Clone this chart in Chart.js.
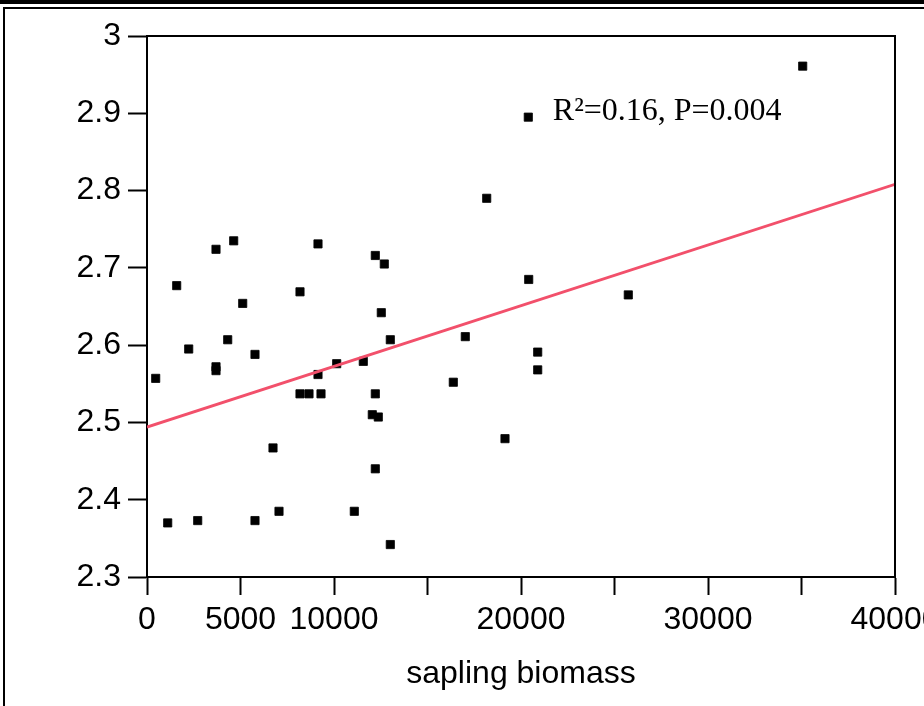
<!DOCTYPE html>
<html>
<head>
<meta charset="utf-8">
<script src="https://cdn.jsdelivr.net/npm/chart.js@4/dist/chart.umd.min.js"></script>
<style>
  html, body { margin: 0; padding: 0; background: #fff; }
  #wrap { position: relative; width: 924px; height: 706px; overflow: hidden; background: #fff; }
  #c { position: absolute; left: 0; top: 0; }
  .fr { position: absolute; background: #000; }
</style>
</head>
<body>
<div id="wrap">
  <canvas id="c" width="924" height="706"></canvas>
  <div class="fr" style="left:0;top:0;width:924px;height:4px;"></div>
  <div class="fr" style="left:3px;top:7px;width:921px;height:2px;"></div>
  <div class="fr" style="left:3px;top:7px;width:2px;height:699px;"></div>
</div>
<script>
// ---- data ----
const saplingBiomass = [465, 1107, 1588, 2230, 2711, 3690, 3690, 3690, 4316, 4636,
  5118, 5775, 5775, 6738, 7059, 8182, 8182, 8663, 9305, 9144,
  9144, 10144, 11086, 11567, 12048, 12209, 12209, 12209, 12369, 12529,
  12690, 13011, 13011, 16380, 17021, 18166, 19144, 20390, 20412, 20893,
  20893, 25738, 35064];
const responseValues = [2.557, 2.370, 2.677, 2.595, 2.373, 2.724, 2.572, 2.567, 2.607, 2.735,
  2.654, 2.588, 2.373, 2.467, 2.385, 2.669, 2.537, 2.537, 2.537, 2.731,
  2.562, 2.576, 2.385, 2.579, 2.510, 2.716, 2.537, 2.440, 2.507, 2.642,
  2.705, 2.607, 2.342, 2.552, 2.611, 2.790, 2.479, 2.895, 2.685, 2.591,
  2.568, 2.665, 2.961];
const trendX = [0, 40000];
const trendY = [2.494, 2.808];
const xTickValues = [0, 5000, 10000, 15000, 20000, 25000, 30000, 35000, 40000];
const xTickLabels = ['0', '5000', '10000', '', '20000', '', '30000', '', '40000'];
const yTickLabels = ['2.3', '2.4', '2.5', '2.6', '2.7', '2.8', '2.9', '3'];
const xAxisTitle = 'sapling biomass';
const statText = 'R\u00B2=0.16, P=0.004';
const statAt = { x: 21700, y: 2.891 };

const points = saplingBiomass.map((x, i) => ({ x: x, y: responseValues[i] }));
const trend = trendX.map((x, i) => ({ x: x, y: trendY[i] }));

const frameAndText = {
  id: 'frameAndText',
  afterDatasetsDraw(chart) {
    const { ctx, chartArea: a, scales } = chart;
    ctx.save();
    ctx.strokeStyle = '#000';
    ctx.lineWidth = 2;
    ctx.beginPath();
    ctx.moveTo(a.left - 1, a.top);
    ctx.lineTo(a.right + 1, a.top);
    ctx.moveTo(a.right, a.top);
    ctx.lineTo(a.right, a.bottom);
    ctx.stroke();
    ctx.fillStyle = '#000';
    ctx.font = '32px "Liberation Serif", "Times New Roman", serif';
    ctx.textAlign = 'left';
    ctx.textBaseline = 'alphabetic';
    ctx.fillText(statText, scales.x.getPixelForValue(statAt.x), scales.y.getPixelForValue(statAt.y));
    ctx.restore();
  }
};

const tickFont = { family: '"Liberation Sans", Arial, sans-serif', size: 32 };

new Chart(document.getElementById('c'), {
  type: 'scatter',
  data: {
    datasets: [
      {
        type: 'line',
        data: trend,
        borderColor: '#f2506b',
        borderWidth: 2.8,
        pointRadius: 0,
        fill: false,
        order: 0
      },
      {
        data: points,
        pointStyle: 'rect',
        pointRadius: 5.8,
        pointBorderWidth: 0.8,
        pointBackgroundColor: '#000',
        pointBorderColor: '#000',
        order: 1
      }
    ]
  },
  options: {
    responsive: false,
    animation: false,
    events: [],
    layout: { padding: { left: 0, right: 29, top: 36, bottom: 0 } },
    plugins: { legend: { display: false }, tooltip: { enabled: false } },
    scales: {
      x: {
        type: 'linear',
        min: 0, max: 40000,
        afterBuildTicks: (s) => { s.ticks = xTickValues.map(v => ({ value: v })); },
        afterFit: (s) => { s.height = 129; s.paddingLeft = 0; s.paddingRight = 0; },
        grid: { drawOnChartArea: false, drawTicks: true, tickLength: 18, tickWidth: 2, tickColor: '#000' },
        border: { display: true, color: '#000', width: 2 },
        ticks: {
          autoSkip: false, maxRotation: 0, minRotation: 0,
          color: '#000', font: tickFont, padding: 6,
          callback: (v, i) => xTickLabels[i]
        },
        title: {
          display: true, text: xAxisTitle, color: '#000',
          font: { family: '"Liberation Sans", Arial, sans-serif', size: 32 },
          padding: { top: 0, bottom: 13 }
        }
      },
      y: {
        type: 'linear',
        min: 2.3, max: 3,
        afterBuildTicks: (s) => { s.ticks = yTickLabels.map(t => ({ value: parseFloat(t) })); },
        afterFit: (s) => { s.width = 147; s.paddingTop = 0; s.paddingBottom = 0; },
        grid: { drawOnChartArea: false, drawTicks: true, tickLength: 19, tickWidth: 2, tickColor: '#000' },
        border: { display: true, color: '#000', width: 2 },
        ticks: {
          autoSkip: false, color: '#000', font: tickFont, padding: 7,
          callback: (v, i) => yTickLabels[i]
        }
      }
    }
  },
  plugins: [frameAndText]
});
</script>
</body>
</html>
